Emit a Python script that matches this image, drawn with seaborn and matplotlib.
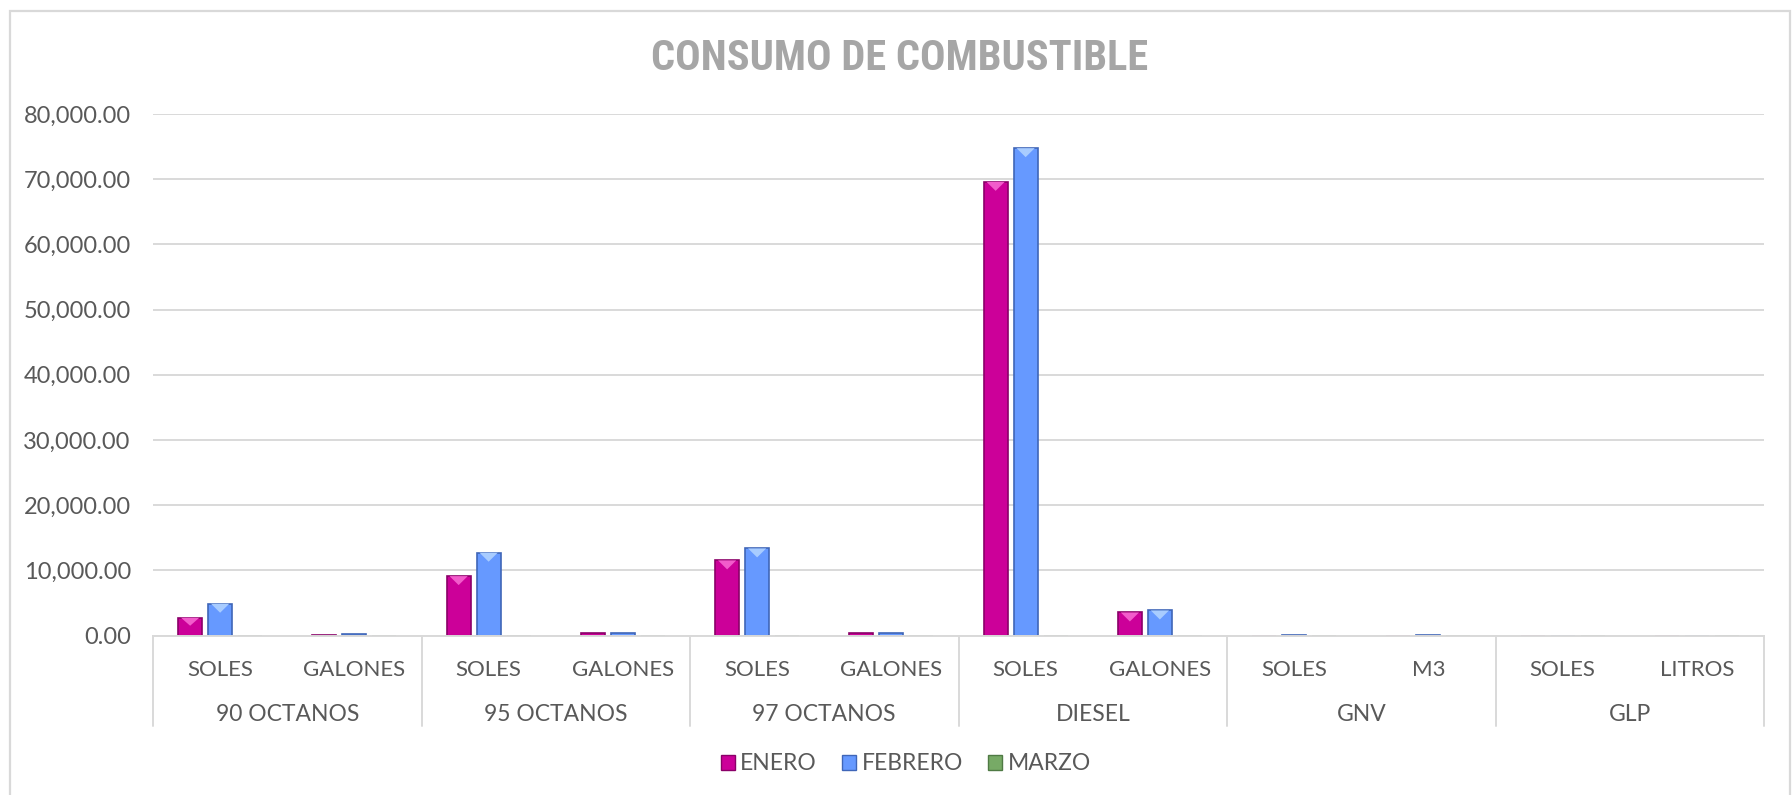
import matplotlib
matplotlib.use("Agg")
import matplotlib.pyplot as plt
from matplotlib.patches import Patch, Polygon, Rectangle
from matplotlib.lines import Line2D
from matplotlib import font_manager as fm
import seaborn as sns
import pandas as pd
import numpy as np

# ---------------- data ----------------
groups = ["90 OCTANOS", "95 OCTANOS", "97 OCTANOS", "DIESEL", "GNV", "GLP"]
sub_labels = ["SOLES", "GALONES", "SOLES", "GALONES", "SOLES", "GALONES",
              "SOLES", "GALONES", "SOLES", "M3", "SOLES", "LITROS"]
series = ["ENERO", "FEBRERO", "MARZO"]
enero = [2720, 150, 9110, 420, 11520, 390, 69590, 3530, 0, 0, 0, 0]
febrero = [4870, 250, 12700, 440, 13360, 430, 74760, 3840, 60, 20, 0, 0]
marzo = [0, 0, 0, 0, 0, 0, 0, 0, 0, 0, 0, 0]
yticks = [0, 10000, 20000, 30000, 40000, 50000, 60000, 70000, 80000]
title = "CONSUMO DE COMBUSTIBLE"

colors = {"ENERO": "#CC0099", "FEBRERO": "#6699FF", "MARZO": "#77AA66"}
edge_colors = {"ENERO": "#8A0068", "FEBRERO": "#3F66B8", "MARZO": "#4F7A44"}
light_colors = {"ENERO": "#F25CCB", "FEBRERO": "#A8CCFF", "MARZO": "#A8D49A"}

keys = [f"{groups[i // 2]}|{sub_labels[i]}|{i}" for i in range(len(sub_labels))]
rows = []
for name, vals in zip(series, [enero, febrero, marzo]):
    for k, v in zip(keys, vals):
        rows.append({"cat": k, "mes": name, "valor": v})
df = pd.DataFrame(rows)

# pick a condensed bold font for the title if one is installed
title_family, title_size = "Liberation Sans", 24
for fam, size in [("Liberation Sans Narrow", 29), ("Roboto Condensed", 30.5),
                  ("DejaVu Sans Condensed", 25)]:
    try:
        fm.findfont(fm.FontProperties(family=fam, weight="bold"),
                    fallback_to_default=False)
        title_family, title_size = fam, size
        break
    except Exception:
        continue

# ---------------- figure ----------------
sns.set_theme(style="white")
plt.rcParams["font.family"] = ["Lato", "DejaVu Sans"]
text_color = "#595959"
grid_color = "#D9D9D9"

W, H = 1792, 795
fig = plt.figure(figsize=(W / 100, H / 100), dpi=100)
fig.patch.set_facecolor("white")

ax_left, ax_right, ax_bottom, ax_top = 153, 1764, 635.5, 114
ax = fig.add_axes([ax_left / W, 1 - ax_bottom / H,
                   (ax_right - ax_left) / W, (ax_bottom - ax_top) / H])

sns.barplot(data=df, x="cat", y="valor", hue="mes", order=keys,
            hue_order=series, palette=colors, width=0.67, gap=0.2,
            saturation=1, ax=ax, legend=False, errorbar=None)

ax.set_ylim(0, 80000)
ax.set_xlim(-0.5, len(keys) - 0.5)
ax.set_yticks(yticks)
ax.set_yticklabels([f"{v:,.2f}" for v in yticks], color=text_color, fontsize=17)
ax.tick_params(axis="y", length=0, pad=16)
ax.set_xticks(range(len(keys)))
ax.set_xticklabels([])
ax.tick_params(axis="x", length=0)
ax.set_xlabel("")
ax.set_ylabel("")
ax.yaxis.grid(True, color=grid_color, linewidth=1.4)
ax.set_axisbelow(True)
for s in ["top", "right", "left"]:
    ax.spines[s].set_visible(False)
ax.spines["bottom"].set_color(grid_color)
ax.spines["bottom"].set_linewidth(1.4)

# 3D-like styling of the bars
px_per_unit = (ax_bottom - ax_top) / 80000.0
for container, name in zip(ax.containers, series):
    for bar in container:
        bar.set_edgecolor(edge_colors[name])
        bar.set_linewidth(1.2)
        h = bar.get_height()
        if h <= 0:
            continue
        hpx = h * px_per_unit
        tri_px = min(9.0, hpx * 0.45)
        if tri_px < 2:
            continue
        x0 = bar.get_x()
        w = bar.get_width()
        tri = Polygon([(x0 + w * 0.12, h), (x0 + w * 0.88, h),
                       (x0 + w / 2, h - tri_px / px_per_unit)],
                      closed=True, facecolor=light_colors[name],
                      edgecolor="none", zorder=bar.get_zorder() + 0.1)
        ax.add_patch(tri)

# two-level category axis
trans = ax.get_xaxis_transform()
ax_h_px = ax_bottom - ax_top
y_sub = -(669.5 - ax_bottom) / ax_h_px
y_grp = -(714.5 - ax_bottom) / ax_h_px
y_sep = -(726 - ax_bottom) / ax_h_px
for i, lab in enumerate(sub_labels):
    ax.text(i, y_sub, lab, transform=trans, ha="center", va="center",
            fontsize=16, color=text_color)
for g, name in enumerate(groups):
    ax.text(2 * g + 0.5, y_grp, name, transform=trans, ha="center",
            va="center", fontsize=16.5, color=text_color)
for k in range(len(groups) + 1):
    ax.add_line(Line2D([2 * k - 0.5, 2 * k - 0.5], [0, y_sep], transform=trans,
                       color=grid_color, linewidth=1.4, clip_on=False))

# title
fig.text(900 / W, 1 - 59 / H, title, ha="center", va="center",
         fontsize=title_size, fontweight="bold", color="#A6A6A6",
         family=[title_family, "DejaVu Sans"])

# legend
handles = [Patch(facecolor=colors[s], edgecolor=edge_colors[s], linewidth=1.0)
           for s in series]
leg = fig.legend(handles, series, loc="center", bbox_to_anchor=(906 / W, 1 - 764 / H),
                 ncol=3, frameon=False, fontsize=16.5, handlelength=0.6,
                 handleheight=0.6, handletextpad=0.25, columnspacing=1.1,
                 labelcolor=text_color)

# chart border
fig.add_artist(Rectangle((10 / W, -0.05), (1790 - 10) / W, 1.05 - 11 / H,
                         transform=fig.transFigure, fill=False,
                         edgecolor=grid_color, linewidth=1.6))

fig.savefig("out.png", dpi=100, facecolor="white")
